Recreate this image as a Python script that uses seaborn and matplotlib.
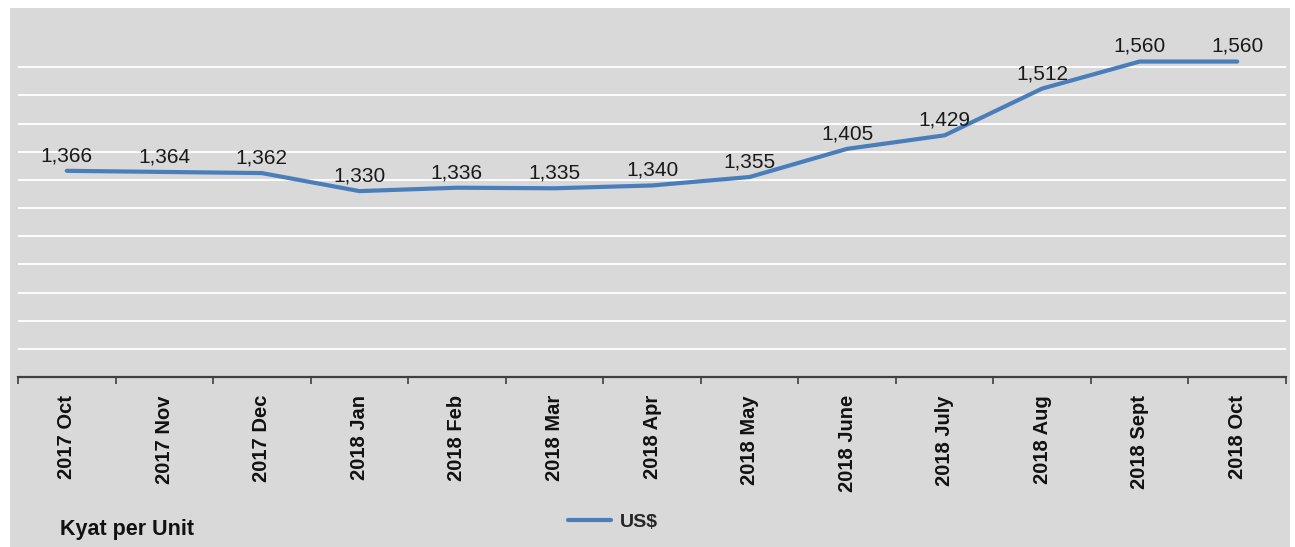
import matplotlib
matplotlib.use('Agg')
import matplotlib.pyplot as plt
import seaborn as sns
import pandas as pd
from matplotlib.patches import Rectangle

# exchange rate data (Kyat per US$)
months = ['2017 Oct', '2017 Nov', '2017 Dec', '2018 Jan', '2018 Feb', '2018 Mar', '2018 Apr',
          '2018 May', '2018 June', '2018 July', '2018 Aug', '2018 Sept', '2018 Oct']
usd = [1366, 1364, 1362, 1330, 1336, 1335, 1340, 1355, 1405, 1429, 1512, 1560, 1560]
grid_levels = list(range(1000, 1600, 50))

sns.set_style('white')
plt.rcParams['font.family'] = ['Liberation Sans', 'DejaVu Sans']

bg = '#d9d9d9'
line_color = '#4a7ebb'

fig = plt.figure(figsize=(12.95, 5.47), dpi=100, facecolor='white')
# gray chart area with white margin at top / sides
fig.patches.append(Rectangle((10 / 1295, 0), 1280 / 1295, 539 / 547,
                             transform=fig.transFigure, facecolor=bg,
                             edgecolor='none', zorder=-10))

ax = fig.add_axes([18 / 1295, 1 - 377 / 547, 1268 / 1295, 338 / 547])
ax.set_zorder(1)
ax.set_facecolor(bg)

df = pd.DataFrame({'month': range(len(months)), 'value': usd})
sns.lineplot(data=df, x='month', y='value', ax=ax, color=line_color,
             linewidth=3, label='US$', legend=False, zorder=3)

for i, v in enumerate(usd):
    ax.annotate(f'{v:,}', (i, v), xytext=(0, 4), textcoords='offset points',
                ha='center', va='bottom', fontsize=15, color='#1a1a1a',
                annotation_clip=False)

ax.set_xlim(-0.5, len(months) - 0.5)
ax.set_ylim(1000, 1600)
ax.set_yticks(grid_levels)
ax.yaxis.grid(True, color='white', linewidth=1.3)
ax.set_axisbelow(True)
ax.tick_params(axis='y', left=False, labelleft=False)

ax.set_xticks(range(len(months)))
ax.set_xticklabels(months, rotation=90, fontsize=14.5, fontweight='bold', color='#111111')
ax.set_xticks([i - 0.5 for i in range(len(months) + 1)], minor=True)
ax.tick_params(axis='x', which='major', length=0, pad=13)
ax.tick_params(axis='x', which='minor', length=5, width=1.2, color='#404040', bottom=True)
ax.set_xlabel('')
ax.set_ylabel('')

for s in ['top', 'right', 'left']:
    ax.spines[s].set_visible(False)
ax.spines['bottom'].set_color('#404040')
ax.spines['bottom'].set_linewidth(1.6)

fig.text(60 / 1295, 1 - 530 / 547, 'Kyat per Unit', fontsize=15.5, fontweight='bold',
         color='#111111', va='center', ha='left')

handles, labels = ax.get_legend_handles_labels()
fig.legend(handles, labels, loc='center', bbox_to_anchor=(613 / 1295, 1 - 522 / 547),
           frameon=False, prop={'weight': 'bold', 'size': 14}, handlelength=2.2,
           handletextpad=0.5)

fig.savefig('out.png', dpi=100, facecolor='white')
